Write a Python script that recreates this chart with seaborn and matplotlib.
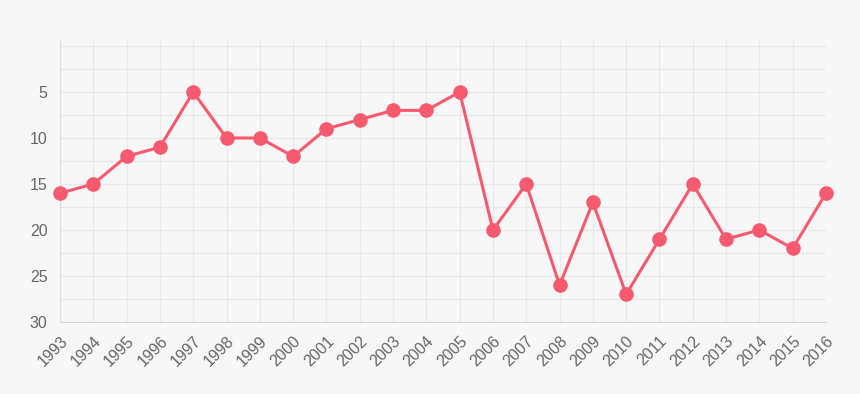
import matplotlib
matplotlib.use("Agg")
import matplotlib.pyplot as plt
import seaborn as sns
import pandas as pd
from matplotlib.ticker import FixedLocator

years = list(range(1993, 2017))
ranks = [16, 15, 12, 11, 5, 10, 10, 12, 9, 8, 7, 7, 5, 20, 15, 26, 17, 27, 21, 15, 21, 20, 22, 16]
y_major = [5, 10, 15, 20, 25, 30]
y_minor = [0, 2.5, 7.5, 12.5, 17.5, 22.5, 27.5]

df = pd.DataFrame({"year": years, "rank": ranks})

sns.set_style("white")
plt.rcParams["font.family"] = ["Liberation Sans", "DejaVu Sans"]

bg = "#f7f7f7"
fig = plt.figure(figsize=(8.6, 3.94), dpi=100, facecolor=bg)
ax = fig.add_axes([60/860, 1-322/394, (826-60)/860, (322-40)/394])
ax.set_facecolor(bg)

sns.lineplot(data=df, x="year", y="rank", ax=ax, color="#f65a6f", linewidth=2.2,
             marker="o", markersize=10.5, markeredgewidth=0, zorder=5)
for ln in ax.lines:
    ln.set_clip_on(False)

ax.set_xlim(years[0], years[-1])
ax.set_ylim(30, -0.65)
ax.set_xticks(years)
ax.set_xticklabels([str(y) for y in years], rotation=45, ha="right", rotation_mode="anchor")
ax.yaxis.set_major_locator(FixedLocator(y_major))
ax.yaxis.set_minor_locator(FixedLocator(y_minor))
ax.set_yticklabels([str(v) for v in y_major])

grid_c = "#e8e8e8"
ax.grid(True, which="both", color=grid_c, linewidth=1)
ax.set_axisbelow(True)
for s in ["top", "right"]:
    ax.spines[s].set_visible(False)
ax.spines["left"].set_color("#dedede")
ax.spines["bottom"].set_color("#d4d4d4")
ax.tick_params(axis="both", which="both", length=5, color="#dadada", width=1,
               labelcolor="#666666", labelsize=11.5, pad=3)
ax.tick_params(axis="y", which="major", pad=4)
ax.set_xlabel("")
ax.set_ylabel("")

fig.savefig("out.png", dpi=100, facecolor=bg)
